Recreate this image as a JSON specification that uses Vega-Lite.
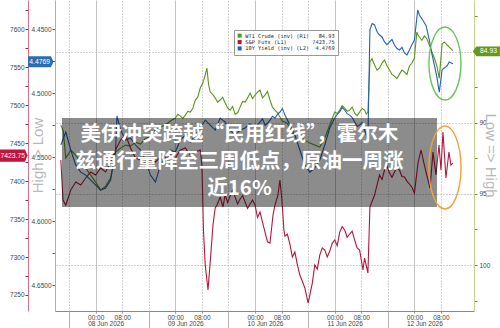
{
  "$schema": "https://vega.github.io/schema/vega-lite/v6.json",
  "width": 419,
  "height": 311,
  "autosize": {"type": "none"},
  "padding": {"left": 55, "top": 0, "right": 26, "bottom": 17},
  "background": "white",
  "config": {
    "view": {"stroke": null},
    "font": "Liberation Sans",
    "axis": {"labelFont": "Liberation Sans", "labelOverlap": false, "labelBound": false, "labelFlush": false, "labelColor": "#444", "labelFontSize": 6.5}
  },
  "datasets": {
    "wti": [
      {"t":"2026-06-07T13:30","v":90.16},{"t":"2026-06-07T14:15","v":90.6},{"t":"2026-06-07T15:00","v":92.48},{"t":"2026-06-07T16:30","v":91.92},
      {"t":"2026-06-07T18:00","v":92.27},{"t":"2026-06-07T19:30","v":92.76},{"t":"2026-06-07T21:00","v":93.19},{"t":"2026-06-07T22:30","v":93.68},
      {"t":"2026-06-08T00:00","v":94.17},{"t":"2026-06-08T01:30","v":94.73},{"t":"2026-06-08T03:00","v":94.45},{"t":"2026-06-08T04:30","v":93.89},
      {"t":"2026-06-08T06:00","v":92.06},{"t":"2026-06-08T07:30","v":91.78},{"t":"2026-06-08T09:00","v":91.57},{"t":"2026-06-08T10:30","v":91.64},
      {"t":"2026-06-08T12:00","v":91.36},{"t":"2026-06-08T13:30","v":91.50},{"t":"2026-06-08T15:00","v":91.08},{"t":"2026-06-08T16:30","v":91.01},
      {"t":"2026-06-08T18:00","v":90.51},{"t":"2026-06-08T19:30","v":90.30},{"t":"2026-06-08T21:00","v":90.16},{"t":"2026-06-08T22:30","v":89.88},
      {"t":"2026-06-09T00:00","v":89.67},{"t":"2026-06-09T01:30","v":89.53},{"t":"2026-06-09T03:00","v":89.46},{"t":"2026-06-09T04:30","v":89.25},
      {"t":"2026-06-09T06:00","v":88.40},{"t":"2026-06-09T07:30","v":87.56},{"t":"2026-06-09T09:00","v":86.65},{"t":"2026-06-09T09:30","v":86.15},
      {"t":"2026-06-09T10:30","v":87.84},{"t":"2026-06-09T12:00","v":88.26},{"t":"2026-06-09T13:30","v":88.40},{"t":"2026-06-09T15:00","v":88.61},
      {"t":"2026-06-09T16:30","v":89.11},{"t":"2026-06-09T18:00","v":89.39},{"t":"2026-06-09T19:30","v":88.90},{"t":"2026-06-09T21:00","v":88.54},
      {"t":"2026-06-09T22:30","v":87.91},{"t":"2026-06-10T00:00","v":88.05},{"t":"2026-06-10T01:30","v":87.70},{"t":"2026-06-10T03:00","v":88.05},
      {"t":"2026-06-10T04:30","v":88.40},{"t":"2026-06-10T06:00","v":89.11},{"t":"2026-06-10T07:30","v":89.60},{"t":"2026-06-10T09:00","v":89.95},
      {"t":"2026-06-10T10:30","v":90.37},{"t":"2026-06-10T12:00","v":90.65},{"t":"2026-06-10T13:30","v":90.94},{"t":"2026-06-10T15:00","v":91.22},
      {"t":"2026-06-10T16:30","v":91.43},{"t":"2026-06-10T18:00","v":91.57},{"t":"2026-06-10T19:30","v":91.71},{"t":"2026-06-10T21:00","v":91.08},
      {"t":"2026-06-10T22:30","v":90.16},{"t":"2026-06-11T00:00","v":89.25},{"t":"2026-06-11T01:30","v":89.11},{"t":"2026-06-11T03:00","v":88.97},
      {"t":"2026-06-11T04:30","v":89.11},{"t":"2026-06-11T06:00","v":89.32},{"t":"2026-06-11T07:30","v":89.25},{"t":"2026-06-11T09:00","v":89.11},
      {"t":"2026-06-11T10:00","v":89.25},{"t":"2026-06-11T10:36","v":85.73},{"t":"2026-06-11T12:00","v":85.94},{"t":"2026-06-11T13:30","v":86.15},
      {"t":"2026-06-11T15:00","v":85.59},{"t":"2026-06-11T16:30","v":86.29},{"t":"2026-06-11T18:00","v":86.72},{"t":"2026-06-11T19:30","v":86.58},
      {"t":"2026-06-11T21:00","v":86.43},{"t":"2026-06-11T22:30","v":86.01},{"t":"2026-06-12T00:00","v":85.45},{"t":"2026-06-12T00:45","v":83.62},
      {"t":"2026-06-12T01:30","v":83.97},{"t":"2026-06-12T03:00","v":83.90},{"t":"2026-06-12T04:30","v":84.54},{"t":"2026-06-12T06:00","v":85.45},
      {"t":"2026-06-12T07:30","v":86.86},{"t":"2026-06-12T08:20","v":84.47},{"t":"2026-06-12T09:00","v":84.32},{"t":"2026-06-12T10:30","v":84.68},
      {"t":"2026-06-12T11:36","v":84.93},
      {"t":"2026-06-09T00:45","v":89.4},{"t":"2026-06-09T02:15","v":89.7},{"t":"2026-06-09T03:45","v":89.2},{"t":"2026-06-09T05:15","v":89.0},
      {"t":"2026-06-09T06:45","v":88.2},{"t":"2026-06-09T08:15","v":87.2},{"t":"2026-06-09T10:00","v":87.3},{"t":"2026-06-09T11:15","v":88.0},
      {"t":"2026-06-09T12:45","v":88.55},{"t":"2026-06-09T14:15","v":88.2},{"t":"2026-06-09T15:45","v":88.95},{"t":"2026-06-09T17:15","v":88.85},
      {"t":"2026-06-09T18:45","v":89.3},{"t":"2026-06-09T20:15","v":88.5},{"t":"2026-06-09T21:45","v":88.25},{"t":"2026-06-09T23:15","v":88.3},
      {"t":"2026-06-10T00:45","v":87.85},{"t":"2026-06-10T02:15","v":88.25},{"t":"2026-06-10T03:45","v":87.8},{"t":"2026-06-10T05:15","v":88.9},
      {"t":"2026-06-10T06:45","v":89.3},{"t":"2026-06-10T08:15","v":89.9},{"t":"2026-06-10T09:45","v":90.05},{"t":"2026-06-10T11:15","v":90.8},
      {"t":"2026-06-11T00:45","v":89.35},{"t":"2026-06-11T02:15","v":88.8},{"t":"2026-06-11T03:45","v":89.2},{"t":"2026-06-11T05:15","v":88.9},
      {"t":"2026-06-11T06:45","v":89.5},{"t":"2026-06-11T08:15","v":89.0},{"t":"2026-06-11T09:30","v":89.4},
      {"t":"2026-06-11T11:15","v":85.5},{"t":"2026-06-11T12:45","v":86.3},{"t":"2026-06-11T14:15","v":85.8},{"t":"2026-06-11T15:45","v":86.0},
      {"t":"2026-06-11T17:15","v":86.6},{"t":"2026-06-11T18:45","v":86.9},{"t":"2026-06-11T20:15","v":86.3},{"t":"2026-06-11T21:45","v":86.6},
      {"t":"2026-06-11T23:15","v":85.8},{"t":"2026-06-12T00:20","v":84.6},{"t":"2026-06-12T01:00","v":83.8},{"t":"2026-06-12T02:15","v":84.2},
      {"t":"2026-06-12T03:45","v":84.1},{"t":"2026-06-12T05:15","v":85.0},{"t":"2026-06-12T06:45","v":86.0},{"t":"2026-06-12T09:45","v":84.5}
    ],
    "spx": [
      {"t":"2026-06-07T13:30","v":7427.8},{"t":"2026-06-07T14:09","v":7375.1},{"t":"2026-06-07T15:00","v":7368.5},{"t":"2026-06-07T16:30","v":7388.3},
      {"t":"2026-06-07T18:00","v":7398.8},{"t":"2026-06-07T19:30","v":7394.9},{"t":"2026-06-07T21:00","v":7404.1},{"t":"2026-06-07T22:30","v":7412.0},
      {"t":"2026-06-08T00:00","v":7408.0},{"t":"2026-06-08T01:30","v":7417.3},{"t":"2026-06-08T03:00","v":7412.0},{"t":"2026-06-08T04:30","v":7425.2},
      {"t":"2026-06-08T06:00","v":7441.0},{"t":"2026-06-08T07:30","v":7454.2},{"t":"2026-06-08T09:00","v":7460.7},{"t":"2026-06-08T10:30","v":7443.6},
      {"t":"2026-06-08T12:00","v":7430.4},{"t":"2026-06-08T13:30","v":7427.8},{"t":"2026-06-08T15:00","v":7423.9},{"t":"2026-06-08T16:30","v":7427.8},
      {"t":"2026-06-08T18:00","v":7425.2},{"t":"2026-06-08T19:30","v":7431.8},{"t":"2026-06-08T21:00","v":7427.8},{"t":"2026-06-08T22:30","v":7434.4},
      {"t":"2026-06-09T00:00","v":7430.4},{"t":"2026-06-09T01:30","v":7441.0},{"t":"2026-06-09T03:00","v":7443.6},{"t":"2026-06-09T04:30","v":7434.4},
      {"t":"2026-06-09T06:00","v":7438.3},{"t":"2026-06-09T07:30","v":7441.0},{"t":"2026-06-09T08:00","v":7421.2},{"t":"2026-06-09T08:28","v":7335.6},
      {"t":"2026-06-09T09:00","v":7289.5},{"t":"2026-06-09T09:50","v":7256.5},{"t":"2026-06-09T10:30","v":7293.4},{"t":"2026-06-09T11:20","v":7342.2},
      {"t":"2026-06-09T12:00","v":7364.6},{"t":"2026-06-09T12:32","v":7368.5},{"t":"2026-06-09T13:30","v":7379.1},{"t":"2026-06-09T14:20","v":7365.9},
      {"t":"2026-06-09T15:00","v":7381.7},{"t":"2026-06-09T16:30","v":7380.4},{"t":"2026-06-09T18:00","v":7379.1},{"t":"2026-06-09T19:30","v":7376.4},
      {"t":"2026-06-09T21:00","v":7372.5},{"t":"2026-06-09T22:30","v":7369.8},{"t":"2026-06-10T00:00","v":7368.5},{"t":"2026-06-10T01:30","v":7359.3},
      {"t":"2026-06-10T03:00","v":7332.9},{"t":"2026-06-10T04:30","v":7318.4},{"t":"2026-06-10T05:25","v":7355.3},{"t":"2026-06-10T06:00","v":7368.5},
      {"t":"2026-06-10T06:54","v":7381.7},{"t":"2026-06-10T07:30","v":7401.5},{"t":"2026-06-10T08:06","v":7375.1},{"t":"2026-06-10T08:42","v":7335.6},
      {"t":"2026-06-10T09:00","v":7327.7},{"t":"2026-06-10T10:30","v":7317.1},{"t":"2026-06-10T12:00","v":7306.6},{"t":"2026-06-10T13:30","v":7276.3},
      {"t":"2026-06-10T15:00","v":7259.2},{"t":"2026-06-10T16:00","v":7239.4},{"t":"2026-06-10T16:30","v":7249.9},{"t":"2026-06-10T17:15","v":7265.7},
      {"t":"2026-06-10T18:00","v":7289.5},{"t":"2026-06-10T19:30","v":7302.6},{"t":"2026-06-10T21:00","v":7309.2},{"t":"2026-06-10T22:30","v":7307.9},
      {"t":"2026-06-11T00:00","v":7322.4},{"t":"2026-06-11T01:30","v":7332.9},{"t":"2026-06-11T03:00","v":7335.6},{"t":"2026-06-11T04:30","v":7330.3},
      {"t":"2026-06-11T06:00","v":7322.4},{"t":"2026-06-11T07:30","v":7309.2},{"t":"2026-06-11T08:30","v":7282.9},{"t":"2026-06-11T09:00","v":7298.7},
      {"t":"2026-06-11T10:00","v":7278.9},{"t":"2026-06-11T10:36","v":7365.9},{"t":"2026-06-11T12:00","v":7381.7},{"t":"2026-06-11T13:30","v":7408.0},
      {"t":"2026-06-11T15:00","v":7414.6},{"t":"2026-06-11T16:30","v":7410.7},{"t":"2026-06-11T18:00","v":7412.0},{"t":"2026-06-11T19:30","v":7414.6},
      {"t":"2026-06-11T21:00","v":7405.4},{"t":"2026-06-11T22:30","v":7396.2},{"t":"2026-06-12T00:00","v":7384.3},{"t":"2026-06-12T01:05","v":7423.9},
      {"t":"2026-06-12T02:00","v":7441.0},{"t":"2026-06-12T03:00","v":7421.2},{"t":"2026-06-12T04:05","v":7401.5},{"t":"2026-06-12T04:42","v":7390.9},
      {"t":"2026-06-12T05:36","v":7438.3},{"t":"2026-06-12T06:30","v":7408.0},{"t":"2026-06-12T07:24","v":7447.6},{"t":"2026-06-12T08:00","v":7414.6},
      {"t":"2026-06-12T08:36","v":7464.7},{"t":"2026-06-12T09:30","v":7404.1},{"t":"2026-06-12T10:24","v":7438.3},{"t":"2026-06-12T11:00","v":7421.2},
      {"t":"2026-06-12T11:36","v":7423.75},
      {"t":"2026-06-09T15:45","v":7372},{"t":"2026-06-09T17:15","v":7388},{"t":"2026-06-09T18:45","v":7370},{"t":"2026-06-09T20:15","v":7381},
      {"t":"2026-06-09T21:45","v":7364},{"t":"2026-06-09T23:15","v":7375},{"t":"2026-06-10T00:45","v":7352},{"t":"2026-06-10T02:15","v":7346},
      {"t":"2026-06-10T03:45","v":7320},{"t":"2026-06-10T09:45","v":7330},{"t":"2026-06-10T11:15","v":7300},{"t":"2026-06-10T12:45","v":7290},
      {"t":"2026-06-10T14:15","v":7268},{"t":"2026-06-10T18:45","v":7284},{"t":"2026-06-10T20:15","v":7312},{"t":"2026-06-10T21:45","v":7300},
      {"t":"2026-06-10T23:15","v":7318},{"t":"2026-06-11T00:45","v":7315},{"t":"2026-06-11T02:15","v":7340},{"t":"2026-06-11T03:45","v":7326},
      {"t":"2026-06-11T05:15","v":7334},{"t":"2026-06-11T06:45","v":7312},{"t":"2026-06-11T12:45","v":7395},{"t":"2026-06-11T14:15","v":7402},
      {"t":"2026-06-11T15:45","v":7420},{"t":"2026-06-11T17:15","v":7405},{"t":"2026-06-11T18:45","v":7418},{"t":"2026-06-11T20:15","v":7406},
      {"t":"2026-06-11T21:45","v":7400},{"t":"2026-06-11T23:15","v":7392}
    ],
    "ust": [
      {"t":"2026-06-07T13:30","v":4.5405},{"t":"2026-06-07T15:00","v":4.5304},{"t":"2026-06-07T16:30","v":4.5444},{"t":"2026-06-07T18:00","v":4.5562},
      {"t":"2026-06-07T19:30","v":4.5617},{"t":"2026-06-07T21:00","v":4.5640},{"t":"2026-06-07T22:30","v":4.5679},{"t":"2026-06-08T00:00","v":4.5718},
      {"t":"2026-06-08T01:30","v":4.5757},{"t":"2026-06-08T03:00","v":4.5742},{"t":"2026-06-08T04:30","v":4.5679},{"t":"2026-06-08T06:00","v":4.5444},
      {"t":"2026-06-08T06:25","v":4.5178},{"t":"2026-06-08T07:30","v":4.5288},{"t":"2026-06-08T09:00","v":4.5366},{"t":"2026-06-08T10:30","v":4.5351},
      {"t":"2026-06-08T12:00","v":4.5405},{"t":"2026-06-08T13:30","v":4.5444},{"t":"2026-06-08T15:00","v":4.5523},{"t":"2026-06-08T16:30","v":4.5640},
      {"t":"2026-06-08T18:00","v":4.5695},{"t":"2026-06-08T19:30","v":4.5562},{"t":"2026-06-08T21:00","v":4.5507},{"t":"2026-06-08T22:30","v":4.5444},
      {"t":"2026-06-09T00:00","v":4.5460},{"t":"2026-06-09T01:30","v":4.5366},{"t":"2026-06-09T03:00","v":4.5327},{"t":"2026-06-09T04:30","v":4.5382},
      {"t":"2026-06-09T06:00","v":4.5327},{"t":"2026-06-09T07:30","v":4.5272},{"t":"2026-06-09T09:00","v":4.5210},{"t":"2026-06-09T10:30","v":4.5249},
      {"t":"2026-06-09T12:00","v":4.5288},{"t":"2026-06-09T13:30","v":4.5194},{"t":"2026-06-09T15:00","v":4.5225},{"t":"2026-06-09T16:30","v":4.5288},
      {"t":"2026-06-09T18:00","v":4.5327},{"t":"2026-06-09T19:30","v":4.5288},{"t":"2026-06-09T21:00","v":4.5272},{"t":"2026-06-09T22:30","v":4.5241},
      {"t":"2026-06-10T00:00","v":4.5272},{"t":"2026-06-10T01:30","v":4.5225},{"t":"2026-06-10T03:00","v":4.5249},{"t":"2026-06-10T04:30","v":4.5210},
      {"t":"2026-06-10T06:00","v":4.5194},{"t":"2026-06-10T07:30","v":4.5147},{"t":"2026-06-10T09:00","v":4.5171},{"t":"2026-06-10T10:30","v":4.5249},
      {"t":"2026-06-10T12:00","v":4.5327},{"t":"2026-06-10T13:30","v":4.5444},{"t":"2026-06-10T15:00","v":4.5562},{"t":"2026-06-10T16:30","v":4.5617},
      {"t":"2026-06-10T18:00","v":4.5585},{"t":"2026-06-10T19:30","v":4.5523},{"t":"2026-06-10T21:00","v":4.5405},{"t":"2026-06-10T22:30","v":4.5272},
      {"t":"2026-06-11T00:00","v":4.5194},{"t":"2026-06-11T01:30","v":4.5147},{"t":"2026-06-11T03:00","v":4.5131},{"t":"2026-06-11T04:30","v":4.5171},
      {"t":"2026-06-11T06:00","v":4.5225},{"t":"2026-06-11T07:30","v":4.5249},{"t":"2026-06-11T09:00","v":4.5288},{"t":"2026-06-11T10:00","v":4.5366},
      {"t":"2026-06-11T10:36","v":4.4505},{"t":"2026-06-11T12:00","v":4.4466},{"t":"2026-06-11T13:30","v":4.4545},{"t":"2026-06-11T15:00","v":4.4599},
      {"t":"2026-06-11T16:30","v":4.4599},{"t":"2026-06-11T18:00","v":4.4623},{"t":"2026-06-11T19:30","v":4.4662},{"t":"2026-06-11T21:00","v":4.4685},
      {"t":"2026-06-11T22:30","v":4.4662},{"t":"2026-06-12T00:00","v":4.4584},{"t":"2026-06-12T01:00","v":4.4349},{"t":"2026-06-12T01:30","v":4.4388},
      {"t":"2026-06-12T02:30","v":4.4427},{"t":"2026-06-12T04:30","v":4.4584},{"t":"2026-06-12T06:00","v":4.4779},{"t":"2026-06-12T07:30","v":4.4991},
      {"t":"2026-06-12T08:20","v":4.4818},{"t":"2026-06-12T09:00","v":4.4803},{"t":"2026-06-12T10:30","v":4.4756},{"t":"2026-06-12T11:36","v":4.4769},
      {"t":"2026-06-10T00:45","v":4.5250},{"t":"2026-06-10T02:15","v":4.5200},{"t":"2026-06-10T03:45","v":4.5235},{"t":"2026-06-10T05:15","v":4.5180},
      {"t":"2026-06-10T06:45","v":4.5165},{"t":"2026-06-10T08:15","v":4.5120},
      {"t":"2026-06-11T00:45","v":4.5165},{"t":"2026-06-11T02:15","v":4.5110},{"t":"2026-06-11T03:45","v":4.5160},{"t":"2026-06-11T05:15","v":4.5190},
      {"t":"2026-06-11T06:45","v":4.5260},{"t":"2026-06-11T08:15","v":4.5230},{"t":"2026-06-11T09:30","v":4.5330},
      {"t":"2026-06-11T11:15","v":4.4455},{"t":"2026-06-11T12:45","v":4.4520},{"t":"2026-06-11T14:15","v":4.4560},{"t":"2026-06-11T15:45","v":4.4620},
      {"t":"2026-06-11T17:15","v":4.4580},{"t":"2026-06-11T18:45","v":4.4650},{"t":"2026-06-11T20:15","v":4.4640},{"t":"2026-06-11T21:45","v":4.4700},
      {"t":"2026-06-11T23:15","v":4.4620},{"t":"2026-06-12T03:30","v":4.4470},{"t":"2026-06-12T05:15","v":4.4690},{"t":"2026-06-12T06:45","v":4.4870},
      {"t":"2026-06-12T09:45","v":4.4790}
    ]
  },
  "layer": [
    {
      "data": {"name": "wti"},
      "mark": {"type": "line", "strokeWidth": 1.1},
      "encoding": {
        "x": {"field": "t", "type": "temporal",
          "scale": {"domain": [{"year":2026,"month":6,"date":7,"hours":11,"minutes":45},{"year":2026,"month":6,"date":12,"hours":17,"minutes":57}], "nice": false},
          "axis": {"orient": "bottom", "title": null, "values": [
            {"year":2026,"month":6,"date":8,"hours":0},{"year":2026,"month":6,"date":8,"hours":8},
            {"year":2026,"month":6,"date":9,"hours":0},{"year":2026,"month":6,"date":9,"hours":8},
            {"year":2026,"month":6,"date":10,"hours":0},{"year":2026,"month":6,"date":10,"hours":8},
            {"year":2026,"month":6,"date":11,"hours":0},{"year":2026,"month":6,"date":11,"hours":8},
            {"year":2026,"month":6,"date":12,"hours":0},{"year":2026,"month":6,"date":12,"hours":8}],
            "format": "%H:%M", "tickSize": 2, "tickColor": "#999", "labelPadding": 1, "domainColor": "#888",
            "grid": true,
            "gridColor": {"condition": {"test": "hours(datum.value) == 0", "value": "#c4c4c4"}, "value": "#a8a8a8"},
            "gridDash": {"condition": {"test": "hours(datum.value) == 0", "value": []}, "value": [1, 2]}}},
        "y": {"field": "v", "type": "quantitative",
          "scale": {"domain": [81.37, 103.23], "reverse": true},
          "axis": {"orient": "right", "title": "Low => High", "titleAngle": 90, "titleX": 16, "titleY": 155,
            "titleFontSize": 15, "titleFontWeight": "normal", "titleColor": "#b8b8b8", "titleAlign": "center", "titleBaseline": "middle",
            "values": [82.5, 85, 87.5, 90, 92.5, 95, 97.5, 100, 102.5],
            "labelExpr": "datum.value % 5 == 0 ? datum.label : ''", "format": "d",
            "tickSize": 3, "tickColor": "#5f9a1a", "domainColor": "#c9cf90", "labelPadding": 2,
            "grid": true, "gridDash": [1, 2], "gridColor": "#a0a0a0",
            "gridOpacity": {"condition": {"test": "datum.value % 5 == 0", "value": 1}, "value": 0}}},
        "color": {"datum": "WTI Crude (inv) (R1)\u00a0\u00a0\u00a084.93", "type": "nominal",
          "scale": {"domain": ["WTI Crude (inv) (R1)\u00a0\u00a0\u00a084.93", "S&P Futs (L1)\u00a0\u00a0\u00a0\u00a0\u00a0\u00a0\u00a0\u00a07423.75", "10Y Yield (inv) (L2)\u00a0\u00a04.4769"], "range": ["#5a9616", "#b5173b", "#2262b0"]},
          "legend": {"orient": "none", "legendX": 179, "legendY": 30, "title": null, "symbolType": "square", "symbolSize": 16,
            "symbolStrokeWidth": 0, "labelFont": "DejaVu Sans Mono", "labelFontSize": 5.3, "labelColor": "#222", "labelOffset": 3,
            "strokeColor": "#999", "fillColor": "#ffffff", "padding": 3, "rowPadding": 0.4, "labelBaseline": "middle",
            "encode": {"symbols": {"update": {"fill": {"scale": "color", "field": "value"}, "fillOpacity": {"value": 1}}}}}}
      }
    },
    {
      "data": {"name": "spx"},
      "mark": {"type": "line", "strokeWidth": 1.1},
      "encoding": {
        "x": {"field": "t", "type": "temporal",
          "scale": {"domain": [{"year":2026,"month":6,"date":7,"hours":11,"minutes":45},{"year":2026,"month":6,"date":12,"hours":17,"minutes":57}], "nice": false},
          "axis": {"orient": "bottom", "title": null, "values": [
            {"year":2026,"month":6,"date":8,"hours":3},{"year":2026,"month":6,"date":9,"hours":3},
            {"year":2026,"month":6,"date":10,"hours":3},{"year":2026,"month":6,"date":11,"hours":3},
            {"year":2026,"month":6,"date":12,"hours":3}],
            "format": "%d %b %Y", "ticks": false, "domain": false, "grid": false, "labelPadding": 9.5}},
        "y": {"field": "v", "type": "quantitative",
          "scale": {"domain": [7228.9, 7638.6]},
          "axis": {"orient": "left", "offset": 27, "title": null,
            "values": [7250, 7275, 7300, 7325, 7350, 7375, 7400, 7425, 7450, 7475, 7500, 7525, 7550, 7575, 7600, 7625],
            "labelExpr": "datum.value % 50 == 0 ? datum.label : ''", "format": "d",
            "tickSize": 3, "tickColor": "#c0143c", "domainColor": "#d87088", "labelPadding": 1, "grid": false}},
        "color": {"datum": "S&P Futs (L1)\u00a0\u00a0\u00a0\u00a0\u00a0\u00a0\u00a0\u00a07423.75", "type": "nominal"}
      }
    },
    {
      "data": {"name": "ust"},
      "mark": {"type": "line", "strokeWidth": 1.1},
      "encoding": {
        "x": {"field": "t", "type": "temporal",
          "scale": {"domain": [{"year":2026,"month":6,"date":7,"hours":11,"minutes":45},{"year":2026,"month":6,"date":12,"hours":17,"minutes":57}], "nice": false},
          "axis": {"orient": "bottom", "title": null, "values": [
            {"year":2026,"month":6,"date":7,"hours":16},{"year":2026,"month":6,"date":8,"hours":16},
            {"year":2026,"month":6,"date":9,"hours":16},{"year":2026,"month":6,"date":10,"hours":16},
            {"year":2026,"month":6,"date":11,"hours":16}],
            "labels": false, "tickSize": 17, "tickColor": "#b4b4b4", "domain": false,
            "grid": true, "gridDash": [1, 2], "gridColor": "#a8a8a8"}},
        "y": {"field": "v", "type": "quantitative",
          "scale": {"domain": [4.4271, 4.6703], "reverse": true},
          "axis": {"orient": "left", "offset": 0, "title": "High > Low", "titleAngle": 270, "titleX": -18, "titleY": 155,
            "titleFontSize": 15, "titleFontWeight": "normal", "titleColor": "#b8b8b8", "titleAlign": "center", "titleBaseline": "middle",
            "values": [4.45, 4.475, 4.5, 4.525, 4.55, 4.575, 4.6, 4.625, 4.65],
            "labelExpr": "round(datum.value * 1000) % 50 == 0 ? datum.label : ''", "format": ".4f",
            "tickSize": 3, "tickColor": "#2b6cb3", "domainColor": "#93b4dc", "labelPadding": 1, "grid": false}},
        "color": {"datum": "10Y Yield (inv) (L2)\u00a0\u00a04.4769", "type": "nominal"}
      }
    },
    {
      "data": {"values": [{}]},
      "mark": {"type": "rect", "fill": "#000000", "opacity": 0.45},
      "encoding": {
        "x": {"datum": {"year":2026,"month":6,"date":7,"hours":13,"minutes":51}, "type": "temporal", "axis": null,
          "scale": {"domain": [{"year":2026,"month":6,"date":7,"hours":11,"minutes":45},{"year":2026,"month":6,"date":12,"hours":17,"minutes":57}], "nice": false}},
        "x2": {"datum": {"year":2026,"month":6,"date":12,"hours":6,"minutes":48}},
        "y": {"datum": 7483.1, "type": "quantitative", "scale": {"domain": [7228.9, 7638.6]}, "axis": null},
        "y2": {"datum": 7365.9}
      }
    },
    {
      "data": {"values": [{}]},
      "mark": {"type": "text", "text": ["美伊冲突跨越“民用红线”，霍尔木", "兹通行量降至三周低点，原油一周涨", "近16%"],
        "font": "Noto Sans CJK SC", "fontSize": 20.5, "fontWeight": "bold", "color": "#ffffff", "lineHeight": 27,
        "align": "center", "baseline": "middle"},
      "encoding": {
        "x": {"datum": {"year":2026,"month":6,"date":9,"hours":19,"minutes":18}, "type": "temporal", "axis": null,
          "scale": {"domain": [{"year":2026,"month":6,"date":7,"hours":11,"minutes":45},{"year":2026,"month":6,"date":12,"hours":17,"minutes":57}], "nice": false}},
        "y": {"datum": 7461.0, "type": "quantitative", "scale": {"domain": [7228.9, 7638.6]}, "axis": null}
      }
    },
    {
      "data": {"values": [{}]},
      "mark": {"type": "point", "shape": "M -0.438 0 A 0.438 1 0 1 1 0.438 0 A 0.438 1 0 1 1 -0.438 0 Z",
        "size": 5329, "filled": false, "stroke": "#6cc35a", "strokeWidth": 1.4, "opacity": 1},
      "encoding": {
        "x": {"datum": {"year":2026,"month":6,"date":12,"hours":9,"minutes":12}, "type": "temporal", "axis": null,
          "scale": {"domain": [{"year":2026,"month":6,"date":7,"hours":11,"minutes":45},{"year":2026,"month":6,"date":12,"hours":17,"minutes":57}], "nice": false}},
        "y": {"datum": 7554.9, "type": "quantitative", "scale": {"domain": [7228.9, 7638.6]}, "axis": null}
      }
    },
    {
      "data": {"values": [{}]},
      "mark": {"type": "point", "shape": "M -0.386 0 A 0.386 1 0 1 1 0.386 0 A 0.386 1 0 1 1 -0.386 0 Z",
        "size": 6889, "filled": false, "stroke": "#f0a33a", "strokeWidth": 1.4, "opacity": 1},
      "encoding": {
        "x": {"datum": {"year":2026,"month":6,"date":12,"hours":9,"minutes":12}, "type": "temporal", "axis": null,
          "scale": {"domain": [{"year":2026,"month":6,"date":7,"hours":11,"minutes":45},{"year":2026,"month":6,"date":12,"hours":17,"minutes":57}], "nice": false}},
        "y": {"datum": 7417.9, "type": "quantitative", "scale": {"domain": [7228.9, 7638.6]}, "axis": null}
      }
    },
    {
      "data": {"values": [{}]},
      "layer": [
        {"mark": {"type": "point", "shape": "M -1 -0.45 L 0.82 -0.45 L 1 0 L 0.82 0.45 L -1 0.45 Z", "size": 756, "filled": true, "fill": "#c0143c", "strokeWidth": 0, "opacity": 1, "yOffset": -7.5}},
        {"mark": {"type": "text", "text": "7423.75", "color": "#ffffff", "fontSize": 6.8, "align": "center", "baseline": "middle", "dx": -1, "yOffset": -7.5}}
      ],
      "encoding": {
        "x": {"datum": {"year":2026,"month":6,"date":6,"hours":23,"minutes":19}, "type": "temporal", "axis": null,
          "scale": {"domain": [{"year":2026,"month":6,"date":7,"hours":11,"minutes":45},{"year":2026,"month":6,"date":12,"hours":17,"minutes":57}], "nice": false}},
        "y": {"datum": 7423.75, "type": "quantitative", "scale": {"domain": [7228.9, 7638.6]}, "axis": null}
      }
    },
    {
      "data": {"values": [{}]},
      "layer": [
        {"mark": {"type": "point", "shape": "M -1 -0.43 L 0.8 -0.43 L 1 0 L 0.8 0.43 L -1 0.43 Z", "size": 650, "filled": true, "fill": "#2b6cb3", "strokeWidth": 0, "opacity": 1, "yOffset": -2}},
        {"mark": {"type": "text", "text": "4.4769", "color": "#ffffff", "fontSize": 6.8, "align": "center", "baseline": "middle", "dx": -1, "yOffset": -2}}
      ],
      "encoding": {
        "x": {"datum": {"year":2026,"month":6,"date":7,"hours":7,"minutes":27}, "type": "temporal", "axis": null,
          "scale": {"domain": [{"year":2026,"month":6,"date":7,"hours":11,"minutes":45},{"year":2026,"month":6,"date":12,"hours":17,"minutes":57}], "nice": false}},
        "y": {"datum": 4.4769, "type": "quantitative", "scale": {"domain": [4.4271, 4.6703], "reverse": true}, "axis": null}
      }
    },
    {
      "data": {"values": [{}]},
      "layer": [
        {"mark": {"type": "point", "shape": "M -1 0 L -0.75 -0.36 L 1 -0.36 L 1 0.36 L -0.75 0.36 Z", "size": 729, "filled": true, "fill": "#5f9a1a", "strokeWidth": 0, "opacity": 1, "yOffset": 0.7}},
        {"mark": {"type": "text", "text": "84.93", "color": "#ffffff", "fontSize": 6.8, "align": "center", "baseline": "middle", "dx": 2, "yOffset": 0.7}}
      ],
      "encoding": {
        "x": {"datum": {"year":2026,"month":6,"date":12,"hours":21,"minutes":42}, "type": "temporal", "axis": null,
          "scale": {"domain": [{"year":2026,"month":6,"date":7,"hours":11,"minutes":45},{"year":2026,"month":6,"date":12,"hours":17,"minutes":57}], "nice": false}},
        "y": {"datum": 84.93, "type": "quantitative", "scale": {"domain": [81.37, 103.23], "reverse": true}, "axis": null}
      }
    }
  ],
  "resolve": {"scale": {"y": "independent"}, "axis": {"x": "independent", "y": "independent"}}
}
